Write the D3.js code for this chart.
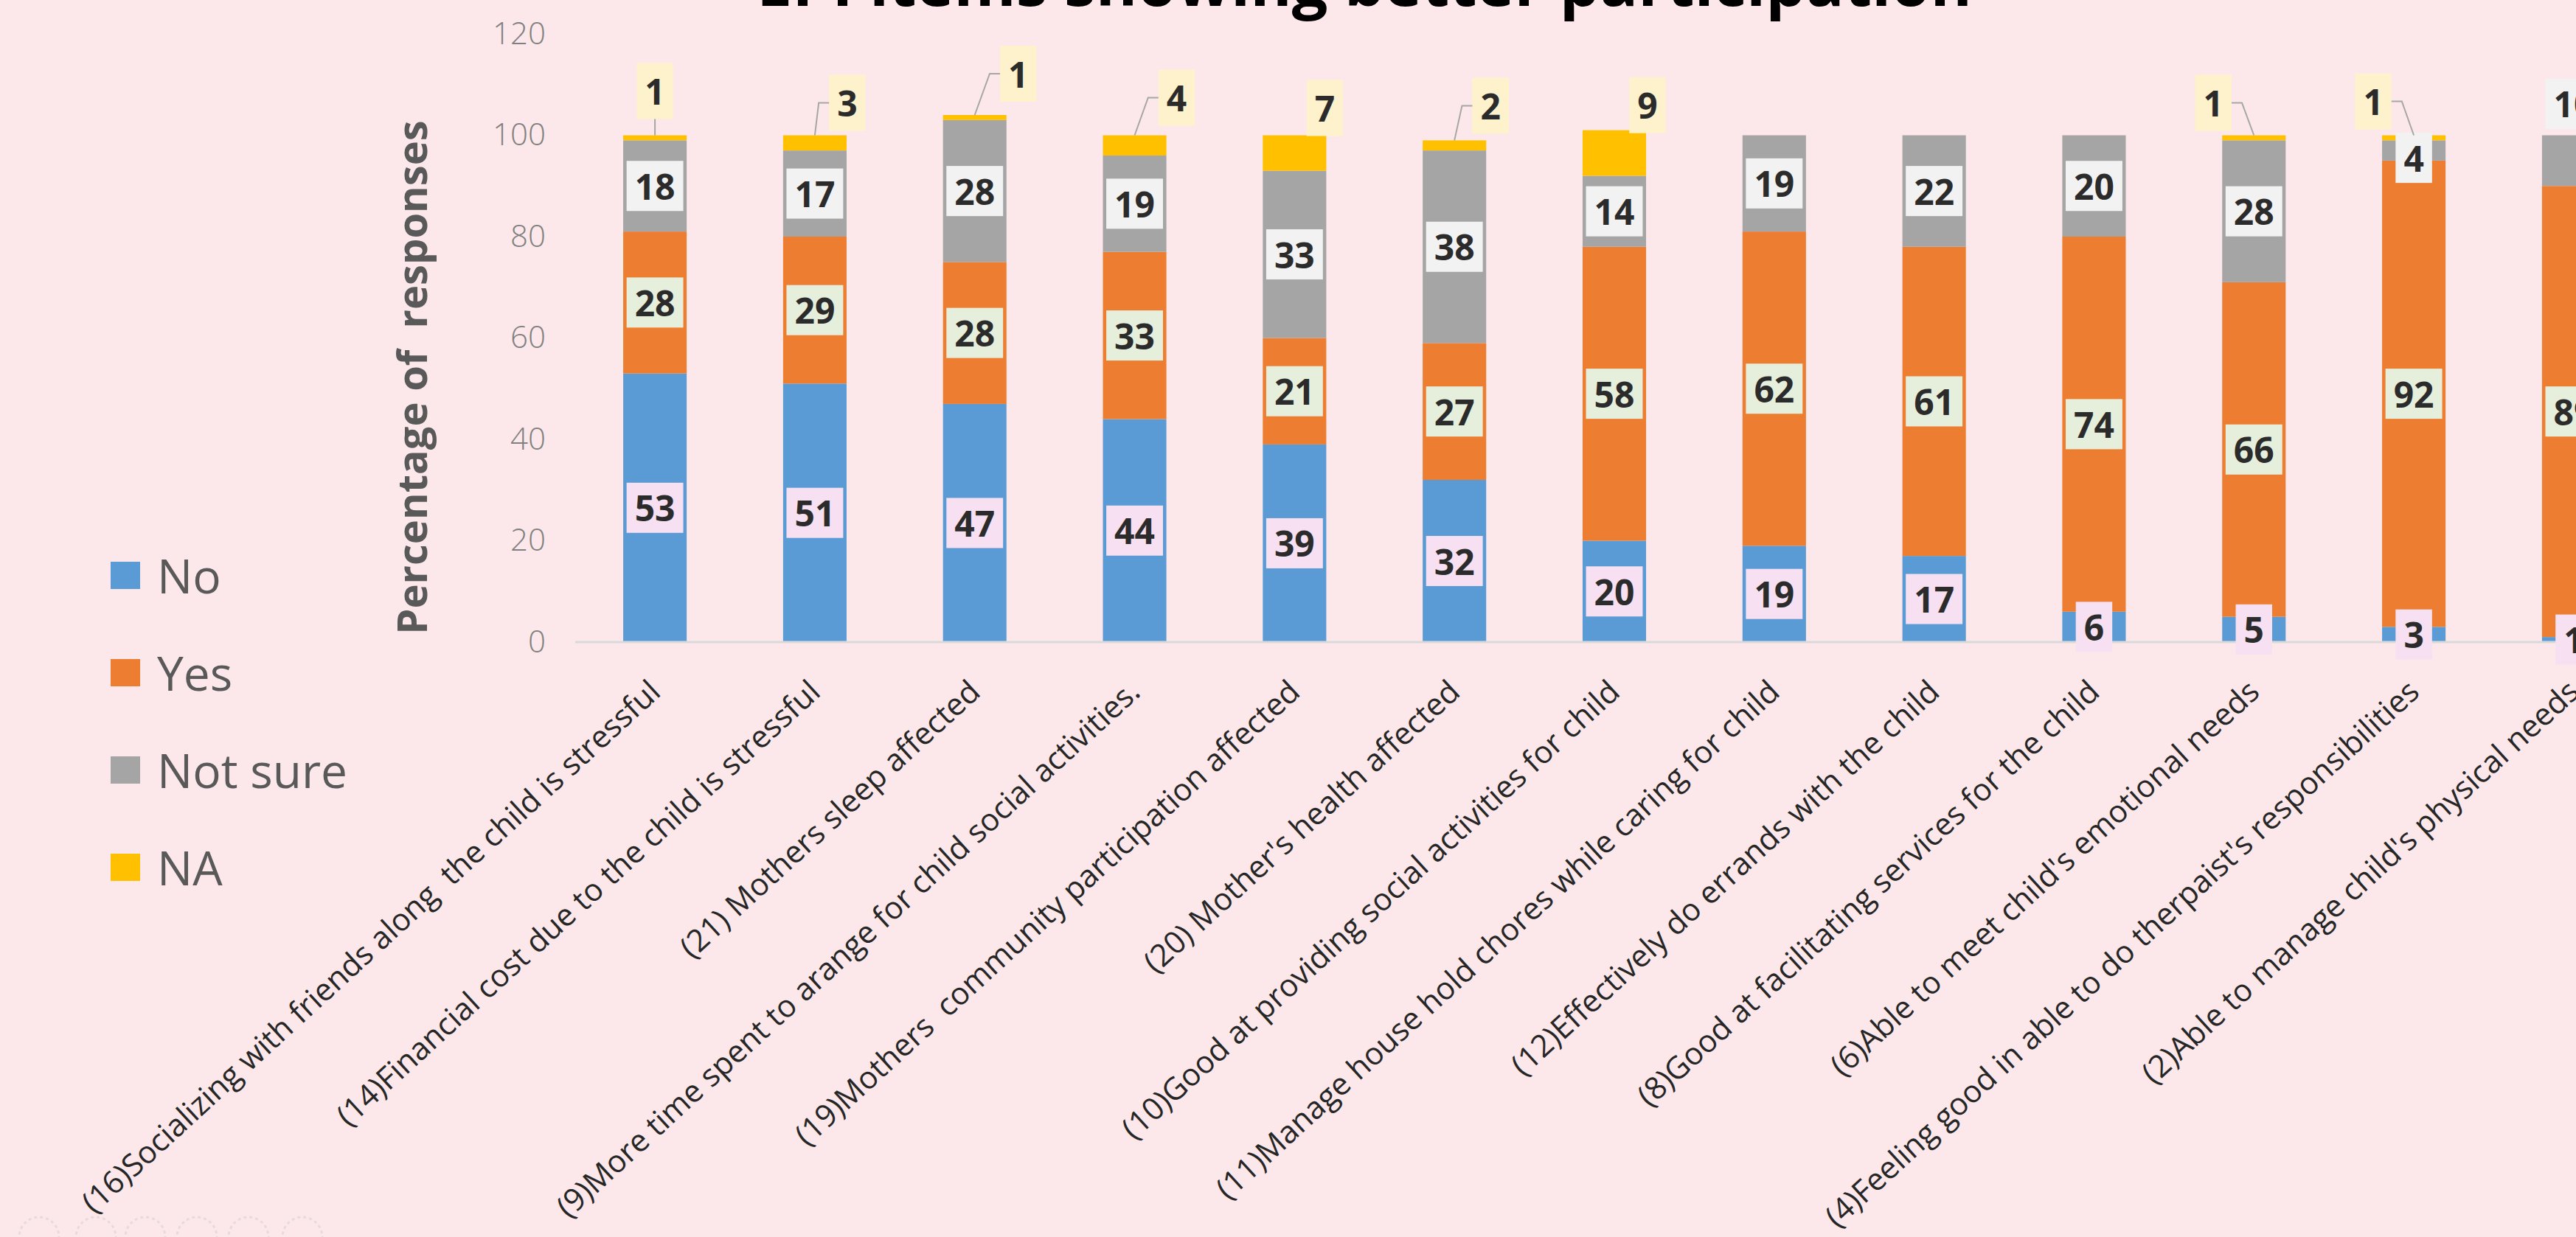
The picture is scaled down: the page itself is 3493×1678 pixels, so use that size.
<!DOCTYPE html>
<html>
<head>
<meta charset="utf-8">
<script src="https://cdn.jsdelivr.net/npm/d3@7"></script>
<style>
  html, body { margin: 0; padding: 0; background: #fce8ea; overflow: hidden; }
  #chart { width: 3493px; height: 1678px; }
  text { font-family: "Open Sans", sans-serif; }
</style>
</head>
<body>
<div id="chart"></div>
<script>
// categories, in the order they appear left to right
var items = [
    "(16)Socializing with friends along  the child is stressful",
    "(14)Financial cost due to the child is stressful",
    "(21) Mothers sleep affected",
    "(9)More time spent to arange for child social activities.",
    "(19)Mothers  community participation affected",
    "(20) Mother's health affected",
    "(10)Good at providing social activities for child",
    "(11)Manage house hold chores while caring for child",
    "(12)Effectively do errands with the child",
    "(8)Good at facilitating services for the child",
    "(6)Able to meet child's emotional needs",
    "(4)Feeling good in able to do therpaist's responsibilities",
    "(2)Able to manage child's physical needs"
];

var noVals      = [53, 51, 47, 44, 39, 32, 20, 19, 17,  6,  5,  3,  1];
var yesVals     = [28, 29, 28, 33, 21, 27, 58, 62, 61, 74, 66, 92, 89];
var notSureVals = [18, 17, 28, 19, 33, 38, 14, 19, 22, 20, 28,  4, 10];
var naVals      = [ 1,  3,  1,  4,  7,  2,  9,  0,  0,  0,  1,  1,  0];

var seriesNames = ["No", "Yes", "Not sure", "NA"];
var yTicks = [0, 20, 40, 60, 80, 100, 120];

// where the hand-moved labels sit (pixels from bar centre / bar top)
var naLabelShift = [[0, -60], [44, -44], [59, -56], [57, -51], [41, -37], [49, -47], [45, -34],
                    null, null, null, [-55, -44], [-55, -46], null];
var naLeader = [true, true, true, true, false, true, false, false, false, false, true, true, false];
var notSureShift = [0, 0, 0, 0, 0, 0, 0, 0, 0, 0, 0, 10, -77];

var colors = {"No": "#5b9bd5", "Yes": "#ed7d31", "Not sure": "#a5a5a5", "NA": "#ffc000"};
var boxColors = {"No": "#f6e0f1", "Yes": "#e6efdc", "Not sure": "#f2f2f2", "NA": "#fdf2cc"};

var width = 3493, height = 1678;

var svg = d3.select("#chart").append("svg")
    .attr("width", width)
    .attr("height", height);

svg.append("rect").attr("width", width).attr("height", height).attr("fill", "#fce8ea");

// table for the stack layout
var table = items.map(function(d, i) {
    return {item: d, "No": noVals[i], "Yes": yesVals[i], "Not sure": notSureVals[i], "NA": naVals[i]};
});
var stacked = d3.stack().keys(seriesNames)(table);

var xScale = d3.scaleBand()
    .domain(items)
    .range([780, 3598])
    .paddingInner(0.603)
    .paddingOuter(0.3);

var yScale = d3.scaleLinear()
    .domain([0, 120])
    .range([871, 46]);

// title, its top is cut by the frame
svg.append("text")
    .attr("x", 1850)
    .attr("y", 8)
    .attr("text-anchor", "middle")
    .style("font-size", "86px")
    .style("font-weight", "bold")
    .attr("fill", "#000")
    .text("EPI items showing better participation");

// y axis: labels only
var yAxis = svg.append("g")
    .attr("transform", "translate(740,0)")
    .call(d3.axisLeft(yScale).tickValues(yTicks).tickSize(0).tickPadding(0));
yAxis.select(".domain").remove();
yAxis.selectAll("text")
    .style("font-size", "42px")
    .style("font-weight", "300")
    .style("font-family", "'Open Sans', sans-serif")
    .attr("fill", "#808080");

svg.append("text")
    .attr("transform", "translate(557,512) rotate(-90)")
    .attr("text-anchor", "middle")
    .attr("dominant-baseline", "central")
    .style("font-size", "56px")
    .style("font-weight", "bold")
    .style("white-space", "pre")
    .attr("fill", "#595959")
    .text("Percentage of  responses");

// bars
var layers = svg.selectAll("g.layer")
    .data(stacked)
    .enter()
    .append("g")
    .attr("class", "layer")
    .attr("fill", function(d) { return colors[d.key]; });

layers.selectAll("rect")
    .data(function(d) { return d; })
    .enter()
    .append("rect")
        .attr("x", function(d) { return xScale(d.data.item); })
        .attr("y", function(d) { return yScale(d[1]); })
        .attr("width", xScale.bandwidth())
        .attr("height", function(d) { return yScale(d[0]) - yScale(d[1]); });

// baseline
svg.append("line")
    .attr("x1", 780).attr("x2", width)
    .attr("y1", yScale(0)).attr("y2", yScale(0))
    .attr("stroke", "#d9d9d9")
    .attr("stroke-width", 3);

// category labels (slanted a little under 45deg, like the stretched original)
var xAxis = svg.append("g")
    .attr("transform", "translate(0," + yScale(0) + ")")
    .call(d3.axisBottom(xScale).tickSize(0));
xAxis.select(".domain").remove();
xAxis.selectAll("text")
    .attr("x", 0).attr("y", 0).attr("dy", "0.35em")
    .attr("transform", "translate(0,60) rotate(-42.5)")
    .style("text-anchor", "end")
    .style("font-size", "42px")
    .style("white-space", "pre")
    .style("font-family", "'Open Sans', sans-serif")
    .attr("fill", "#262626");

// data labels with boxes
function addLabel(cx, cy, value, key) {
    var g = svg.append("g").attr("transform", "translate(" + cx + "," + cy + ")");
    var box = g.append("rect").attr("fill", boxColors[key]);
    var t = g.append("text")
        .attr("text-anchor", "middle")
        .attr("dominant-baseline", "central")
        .style("font-size", "48px")
        .style("font-weight", "bold")
        .attr("fill", "#2b2b2b")
        .text(value);
    var w = t.node().getComputedTextLength() + 22;
    var h = key === "NA" ? 76 : 68;
    box.attr("x", -w / 2).attr("y", -h / 2).attr("width", w).attr("height", h);
    return {w: w, h: h};
}

stacked.forEach(function(layer) {
    layer.forEach(function(d, i) {
        var v = d.data[layer.key];
        if (!v) return;
        var cx = xScale(d.data.item) + xScale.bandwidth() / 2;
        if (layer.key === "NA") {
            var top = yScale(d[1]);
            var s = naLabelShift[i];
            var lx = cx + s[0], ly = top + s[1];
            var size = addLabel(lx, ly, v, "NA");
            if (naLeader[i]) {
                var pts;
                if (Math.abs(s[0]) < 10) {
                    pts = [[cx, top], [cx, ly + size.h / 2]];
                } else {
                    var side = s[0] > 0 ? lx - size.w / 2 : lx + size.w / 2;
                    var elbow = s[0] > 0 ? side - 14 : side + 14;
                    pts = [[cx, top], [elbow, ly], [side, ly]];
                }
                svg.append("path")
                    .attr("d", d3.line()(pts))
                    .attr("fill", "none")
                    .attr("stroke", "#a6a6a6")
                    .attr("stroke-width", 2);
            }
        } else {
            var cy = yScale((d[0] + d[1]) / 2);
            if (layer.key === "Not sure") cy += notSureShift[i];
            addLabel(cx, cy, v, layer.key);
        }
    });
});

// legend
var legend = svg.selectAll("g.legend")
    .data(seriesNames)
    .enter()
    .append("g")
    .attr("class", "legend")
    .attr("transform", function(d, i) { return "translate(150," + (780 + i * 132) + ")"; });

legend.append("rect")
    .attr("x", 0).attr("y", -18)
    .attr("width", 40).attr("height", 37)
    .attr("fill", function(d) { return colors[d]; });

legend.append("text")
    .attr("x", 63)
    .attr("y", 0)
    .attr("dominant-baseline", "central")
    .style("font-size", "64px")
    .attr("fill", "#595959")
    .text(function(d) { return d; });

// faint slide-control rings from the screenshot, bottom left
svg.selectAll("circle.ctrl")
    .data([53, 130, 197, 267, 337, 410])
    .enter()
    .append("circle")
    .attr("class", "ctrl")
    .attr("cx", function(d) { return d; })
    .attr("cy", 1678)
    .attr("r", 27)
    .attr("fill", "none")
    .attr("stroke", "#e6dadc")
    .attr("stroke-width", 3)
    .attr("stroke-dasharray", "4,4");
</script>
</body>
</html>
